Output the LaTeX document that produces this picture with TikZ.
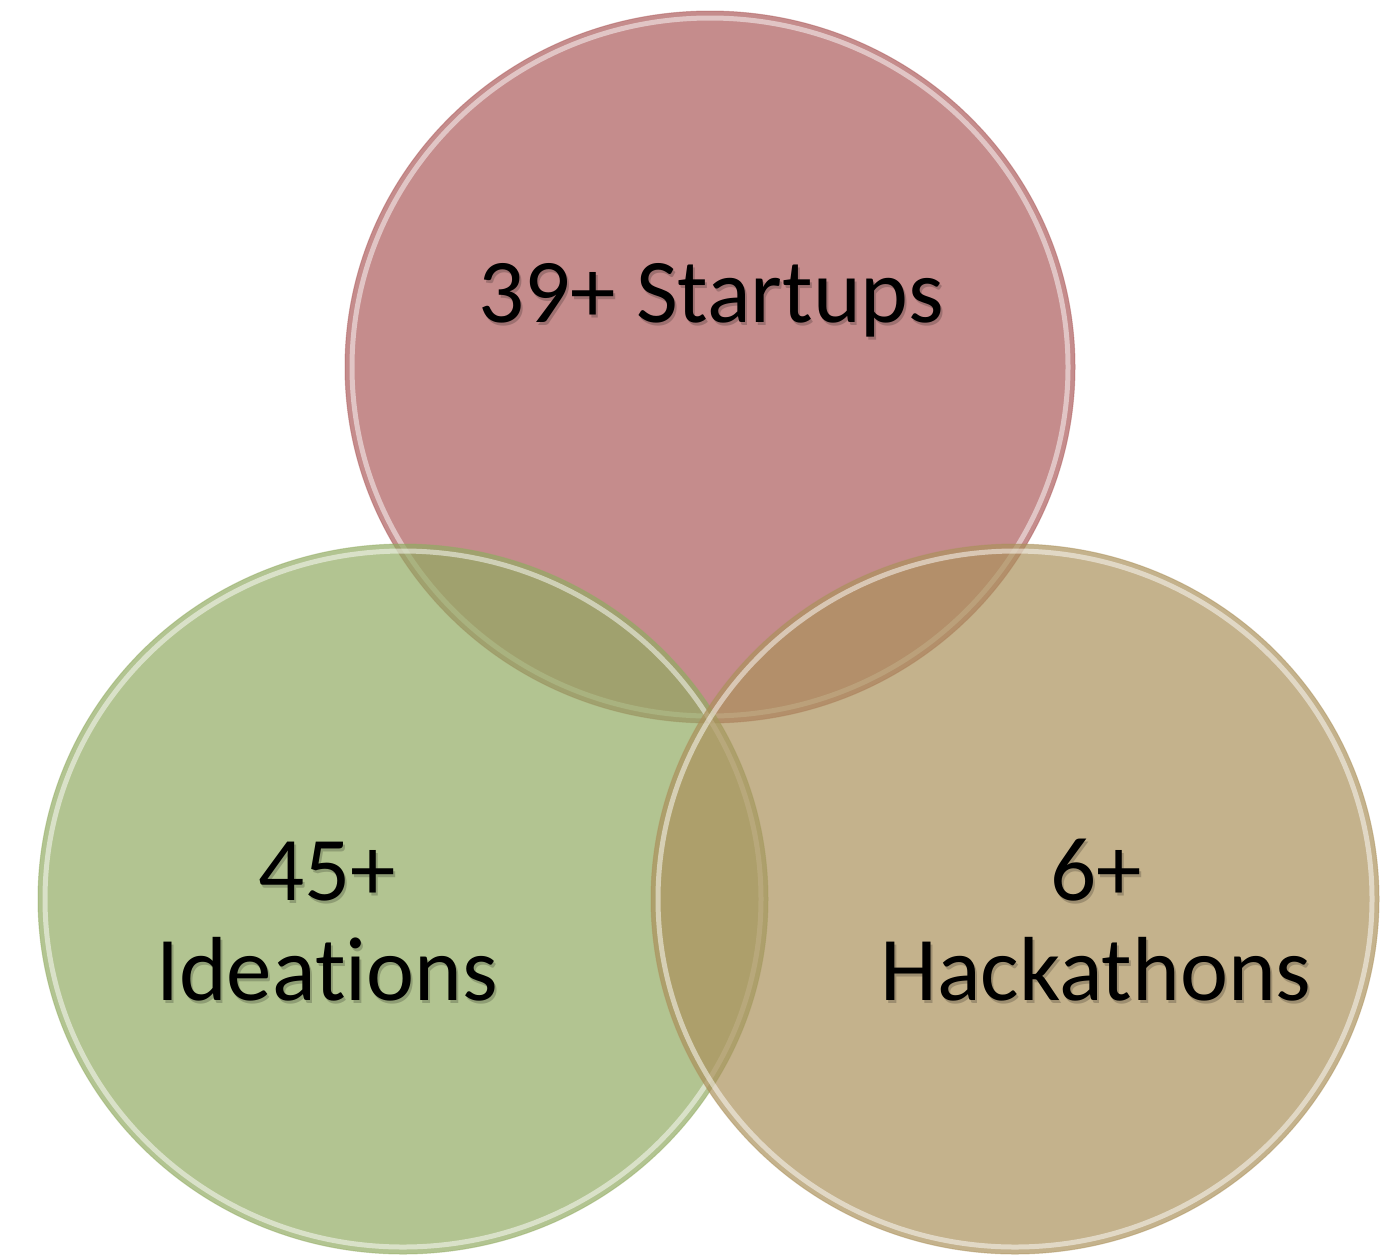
\documentclass[tikz,border=0pt]{standalone}
\usepackage{fontspec}
\setmainfont[Ligatures=NoCommon]{Carlito}
\definecolor{cred}{RGB}{172,91,91}
\definecolor{cgreen}{RGB}{146,171,98}
\definecolor{ctan}{RGB}{171,145,91}
\tikzset{
  venn/.style={fill opacity=0.7},
  rim/.style={draw=white, line width=5pt, draw opacity=0.5},
  edge/.style={line width=1pt, draw opacity=0.45},
  lbl/.style={font=\fontsize{91}{98}\selectfont, text=black, align=center, inner sep=0pt},
  shade/.style={lbl, text opacity=0.2}
}
\begin{document}
\begin{tikzpicture}[x=1pt,y=-1pt]
\useasboundingbox (0,0) rectangle (1383,1259);
% top circle
\fill[venn, cred] (710,367) ellipse [x radius=365, y radius=356];
\draw[rim] (710,367) ellipse [x radius=358, y radius=349];
\draw[edge, draw=cred] (710,367) ellipse [x radius=365, y radius=356];
% left circle
\fill[venn, cgreen] (403,899) ellipse [x radius=365, y radius=355];
\draw[rim] (403,899) ellipse [x radius=358, y radius=348];
\draw[edge, draw=cgreen] (403,899) ellipse [x radius=365, y radius=355];
% right circle
\fill[venn, ctan] (1015,899) ellipse [x radius=364, y radius=355];
\draw[rim] (1015,899) ellipse [x radius=357, y radius=348];
\draw[edge, draw=ctan] (1015,899) ellipse [x radius=364, y radius=355];
% label shadows
\node[shade, anchor=base] at (713,325) {39+ Startups};
\node[shade, anchor=base] at (329,903) {45+};
\node[shade, anchor=base] at (329,1003) {Ideations};
\node[shade, anchor=base] at (1098,903) {6+};
\node[shade, anchor=base] at (1098,1003) {Hackathons};
% labels
\node[lbl, anchor=base] (s) at (711,322) {39+ Startups};
\node[lbl, anchor=base] (i1) at (327,900) {45+};
\node[lbl, anchor=base] (i2) at (327,1000) {Ideations};
\node[lbl, anchor=base] (h1) at (1096,900) {6+};
\node[lbl, anchor=base] (h2) at (1096,1000) {Hackathons};
\end{tikzpicture}
\end{document}
